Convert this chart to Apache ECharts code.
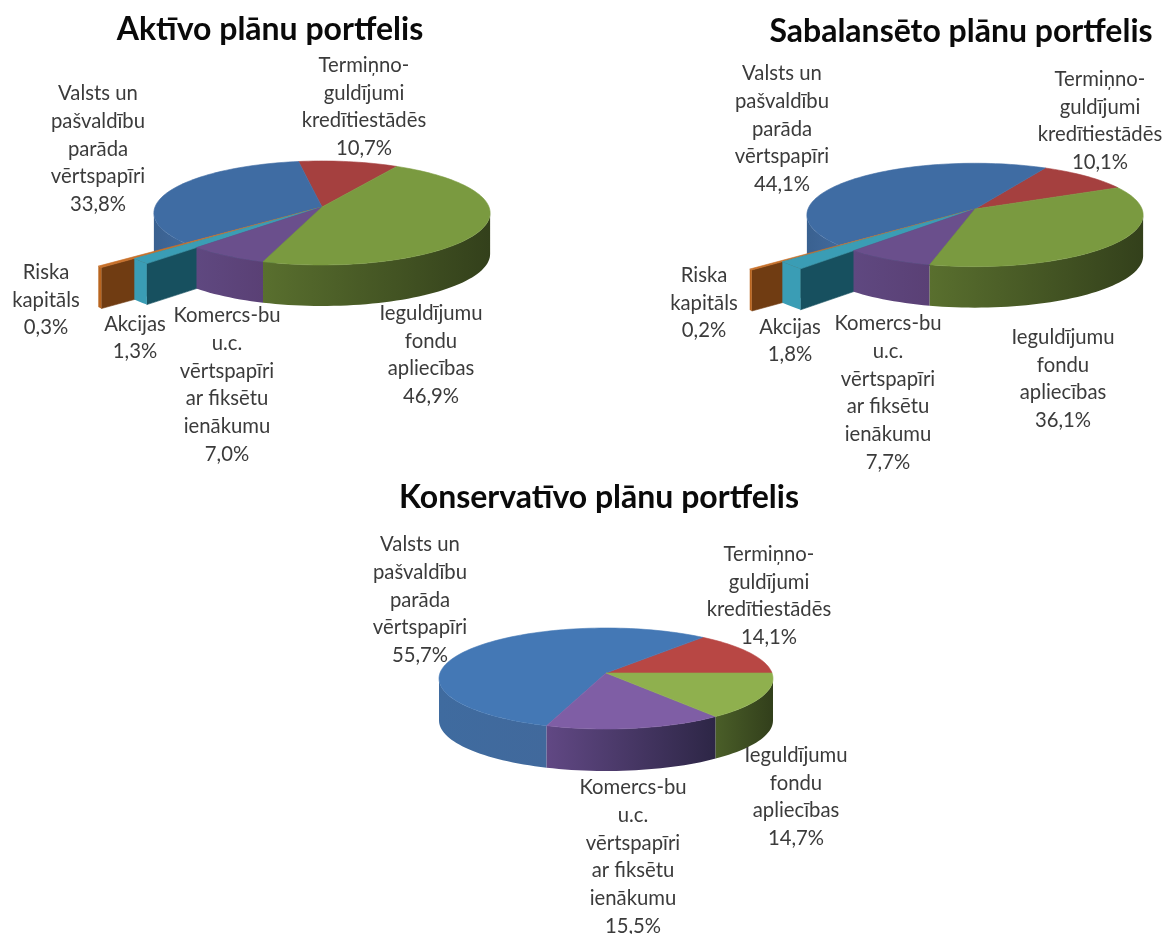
<!DOCTYPE html>
<html>
<head>
<meta charset="utf-8">
<style>html,body{margin:0;padding:0;background:#fff}#c{width:1163px;height:934px}</style>
<script src="https://cdn.jsdelivr.net/npm/echarts@6/dist/echarts.min.js"></script>
</head>
<body>
<div id="c"></div>
<script>
// ---- data (clockwise order) ----
const categories = ['Ieguldījumu\nfondu\napliecības','Komercs-bu\nu.c.\nvērtspapīri\nar fiksētu\nienākumu','Akcijas','Riska\nkapitāls','Valsts un\npašvaldību\nparāda\nvērtspapīri','Termiņno-\nguldījumi\nkredītiestādēs'];
const aktivoValues = [46.9, 7.0, 1.3, 0.3, 33.8, 10.7];
const sabalansetoValues = [36.1, 7.7, 1.8, 0.2, 44.1, 10.1];
const konservativoCategories = [categories[0], categories[1], categories[4], categories[5]];
const konservativoValues = [14.7, 15.5, 55.7, 14.1];
const titles = ['Aktīvo plānu portfelis','Sabalansēto plānu portfelis','Konservatīvo plānu portfelis'];

// ---- layout & style ----
const dim = {blue:['#3f6ca3','#3a6190','#41699c'],red:['#a5403f','#7d2f2d','#7d2f2d'],green:['#7a9a40','#596f2e','#33401b'],purple:['#6a4f8c','#5f4880','#5a4075'],teal:['#3a9db5','#3a9db5','#3a9db5'],orange:['#c8702a','#b9651f','#b9651f']};
const bright = {blue:['#4478b5','#3f6b9f','#41699c'],red:['#b84744','#7d2f2d','#7d2f2d'],green:['#8fb04e','#4a5e28','#323f1b'],purple:['#7f5ea5','#614884','#2d2646']};
const sideDark = {teal:'#17505f',orange:'#703c12'};
const colorKeys6 = ['green','purple','teal','orange','blue','red'];
const colorKeys4 = ['green','purple','blue','red'];

const pies = [
 {title:titles[0],tx:265,ty:32,cats:categories,vals:aktivoValues,keys:colorKeys6,pal:dim,cx:322,cy:207,rx:167,ry:51.3,k:0.115,depth:41,start:60.5,
  ext:[1,1,1.351,1.56,1,1],
  lab:[[431,355],[227,385],[135,338],[46,300],[98,149],[364,107]]},
 {title:titles[1],tx:956,ty:34,cats:categories,vals:sabalansetoValues,keys:colorKeys6,pal:dim,cx:975,cy:209,rx:167,ry:51,k:0.115,depth:41,start:26,
  ext:[1,1,1.384,1.577,1,1],
  lab:[[1063,379],[888,393],[790,341],[704,303],[782,129],[1100,121]]},
 {title:titles[2],tx:594,ty:500,cats:konservativoCategories,vals:konservativoValues,keys:colorKeys4,pal:bright,cx:606,cy:673,rx:166,ry:49.9,k:0.109,depth:42,start:0,
  ext:[1,1,1,1],
  lab:[[796,797],[633,857],[420,600],[769,596]]}
];
const LABEL_FONT = '20.3px Lato, "Open Sans", sans-serif';
const rad = Math.PI/180;

function pct(v){ return v.toFixed(1).replace('.',',')+'%'; }

function makeSeries(p){
  const total = p.vals.reduce((a,b)=>a+b,0);
  let acc = p.start;
  const sectors = p.vals.map((v,i)=>{
    const a0 = acc, a1 = acc - v/total*360; acc = a1;
    return {i,a0,a1,v};
  }).reverse();
  const pt = (deg,r,dy)=>{
    const X=r*Math.cos(deg*rad),Y=r*Math.sin(deg*rad),w=1+p.k*Y;
    return [p.cx+p.rx*X/w, p.cy-p.ry*Y/w+(dy||0)];
  };
  const arc=(from,to,r,dy)=>{
    const n=Math.max(2,Math.ceil(Math.abs(to-from)/2)),out=[];
    for(let j=0;j<=n;j++) out.push(pt(from+(to-from)*j/n,r,dy));
    return out;
  };
  const edge=Math.asin(p.k)/rad;
  return {
    type:'custom',coordinateSystem:'none',silent:true,animation:false,clip:false,
    data:sectors.map(s=>({name:p.cats[s.i],value:s.v})),
    renderItem(params){
      const s=sectors[params.dataIndex];
      const key=p.keys[s.i],col=p.pal[key],r=p.ext[s.i];
      const kids=[];
      const base=(params.dataIndex+1)*10;
      const poly=(points,fill,z)=>kids.push({type:'polygon',shape:{points},z2:base+z,
        style:{fill,stroke:typeof fill==='string'?fill:null,lineWidth:typeof fill==='string'?0.6:0}});
      const lo=-180+edge, hi=-edge;
      [0,-360].forEach(shift=>{
        const from=Math.min(s.a0+shift,hi), to=Math.max(s.a1+shift,lo);
        if(from>to){
          const top=arc(from,to,r,0),bot=arc(to,from,r,p.depth);
          poly(top.concat(bot),{type:'linear',x:0,y:0,x2:1,y2:0,colorStops:[{offset:0,color:col[1]},{offset:1,color:col[2]}]},1);
        }
      });
      if(r>1){
        const o=pt(s.a0,r,0);
        poly([[p.cx,p.cy],o,[o[0],o[1]+p.depth],[p.cx,p.cy+p.depth]],sideDark[key],0);
      }
      poly([[p.cx,p.cy]].concat(arc(s.a0,s.a1,r,0)),col[0],2);
      kids.push({type:'text',z2:1000,style:{
        text:p.cats[s.i]+'\n'+pct(s.v),x:p.lab[s.i][0],y:p.lab[s.i][1],
        align:'center',verticalAlign:'middle',lineHeight:27.9,font:LABEL_FONT,fill:'#3b3b3b'}});
      return {type:'group',children:kids};
    }
  };
}

const chart = echarts.init(document.getElementById('c'),null,{renderer:'canvas'});
chart.setOption({
  backgroundColor:'#ffffff',
  animation:false,
  title:pies.map(p=>({text:p.title,left:p.tx,top:p.ty-26,textAlign:'center',
    textStyle:{fontFamily:'Lato, "Open Sans", sans-serif',fontWeight:'bold',fontSize:32,color:'#0a0a0a',lineHeight:38}})),
  series:pies.map(makeSeries)
});
</script>
</body>
</html>
